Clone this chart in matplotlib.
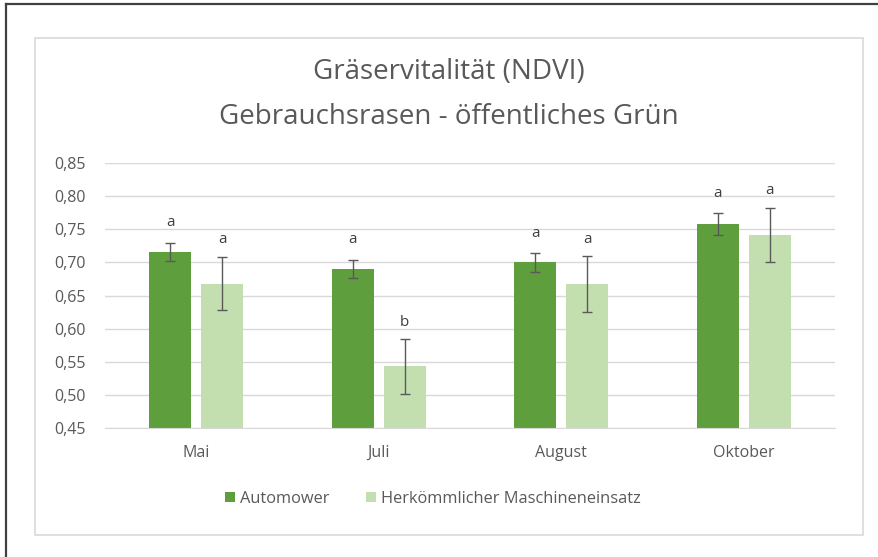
import numpy as np
import matplotlib.pyplot as plt
from matplotlib.patches import Rectangle
from matplotlib.lines import Line2D
from matplotlib.ticker import FuncFormatter

plt.rcParams['font.family'] = ['Open Sans', 'DejaVu Sans']

months = ["Mai", "Juli", "August", "Oktober"]
series = ["Automower", "Herkömmlicher Maschineneinsatz"]
auto_vals = [0.716, 0.690, 0.700, 0.758]
auto_err = [0.014, 0.014, 0.014, 0.016]
herk_vals = [0.668, 0.543, 0.667, 0.741]
herk_err = [0.040, 0.041, 0.042, 0.041]
auto_letters = ["a", "a", "a", "a"]
herk_letters = ["a", "b", "a", "a"]

dark = "#5f9e3c"
light = "#c3dfb0"
grey_text = "#595959"

fig = plt.figure(figsize=(8.79, 5.57), dpi=100)
W, H = 879, 557

# outer frame (top + left only) and the light chart border
fig.add_artist(Line2D([6 / W, 1], [1 - 4 / H, 1 - 4 / H], color="#404040", lw=1.6))
fig.add_artist(Line2D([6 / W, 6 / W], [0, 1 - 4 / H], color="#404040", lw=1.6))
fig.add_artist(Rectangle((35 / W, 1 - 535 / H), (863 - 35) / W, (535 - 38) / H,
                         fill=False, edgecolor="#d9d9d9", lw=1.2))

ax = fig.add_axes([105 / W, 1 - 428 / H, (835 - 105) / W, (428 - 163) / H])

x = np.arange(len(months))
bw = 0.23
gap = 0.055
off = (bw + gap) / 2
ekw = dict(ecolor="#595959", elinewidth=1, capsize=3.5, capthick=1)
ax.bar(x - off, auto_vals, bw, color=dark, yerr=auto_err, error_kw=ekw, label=series[0], zorder=2)
ax.bar(x + off, herk_vals, bw, color=light, yerr=herk_err, error_kw=ekw, label=series[1], zorder=2)

for i in range(len(months)):
    ax.annotate(auto_letters[i], (x[i] - off, auto_vals[i] + auto_err[i]), xytext=(0, 9),
                textcoords="offset points", ha="center", va="bottom", fontsize=11, color="#404040")
    ax.annotate(herk_letters[i], (x[i] + off, herk_vals[i] + herk_err[i]), xytext=(0, 7),
                textcoords="offset points", ha="center", va="bottom", fontsize=11, color="#404040")

ax.set_xlim(-0.5, len(months) - 0.5)
ax.set_ylim(0.45, 0.85)
ax.set_yticks(np.arange(0.45, 0.851, 0.05))
ax.yaxis.set_major_formatter(FuncFormatter(lambda v, p: f"{v:.2f}".replace(".", ",")))
ax.set_xticks(x)
ax.set_xticklabels(months)
ax.grid(axis="y", color="#d9d9d9", lw=1, zorder=0)
ax.set_axisbelow(True)
for s in ["top", "right", "left"]:
    ax.spines[s].set_visible(False)
ax.spines["bottom"].set_color("#d9d9d9")
ax.tick_params(axis="both", length=0, colors=grey_text, labelsize=11.5)
ax.tick_params(axis="y", pad=13.5)
ax.tick_params(axis="x", pad=12)

fig.text(0.5 * (35 + 863) / W, 1 - 72 / H, "Gräservitalität (NDVI)", ha="center", va="center",
         fontsize=20, color=grey_text)
fig.text(0.5 * (35 + 863) / W, 1 - 117 / H, "Gebrauchsrasen - öffentliches Grün", ha="center",
         va="center", fontsize=20, color=grey_text)

fig.legend(loc="center", bbox_to_anchor=(433 / W, 1 - 499 / H), ncol=2, frameon=False,
           fontsize=11.8, labelcolor=grey_text, handlelength=0.6, handleheight=0.6,
           handletextpad=0.35, columnspacing=2.2)

fig.savefig("out.png", dpi=100, facecolor="white")
